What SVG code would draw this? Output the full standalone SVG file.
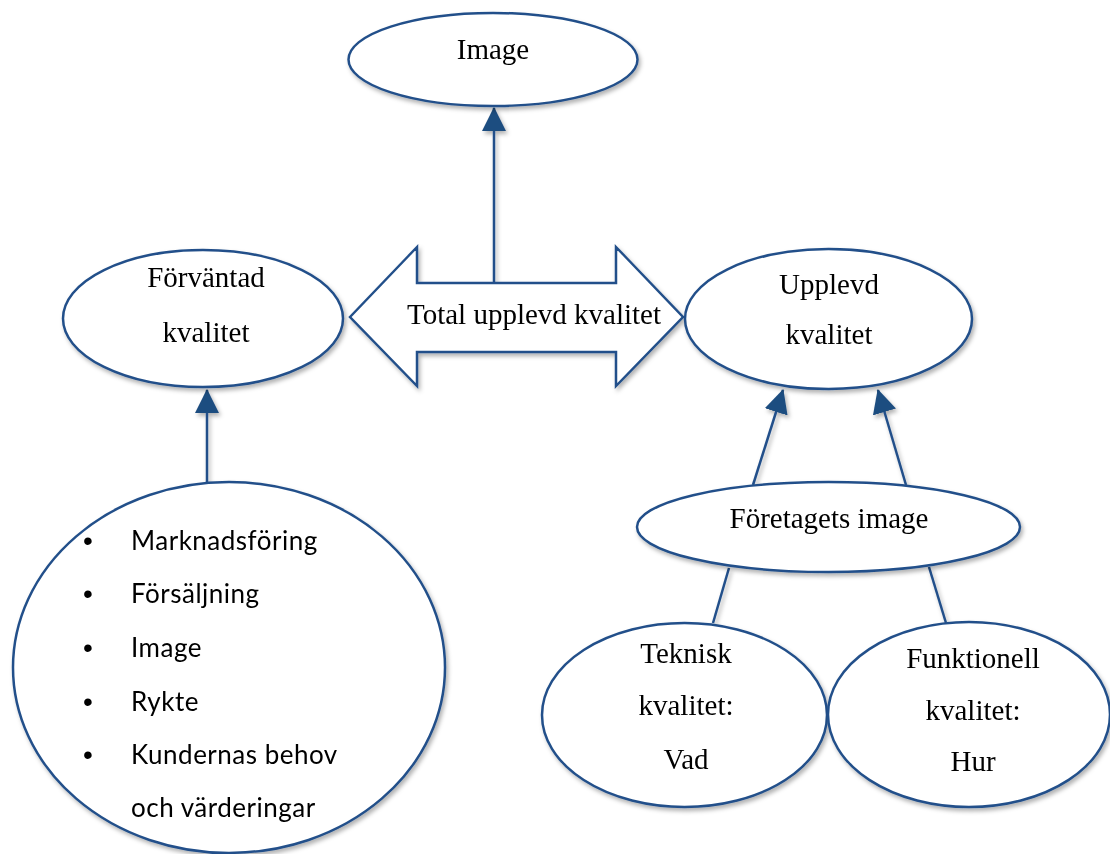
<svg xmlns="http://www.w3.org/2000/svg" width="1110" height="854" viewBox="0 0 1110 854">
  <defs>
    <filter id="sh" x="-10%" y="-10%" width="130%" height="140%">
      <feDropShadow dx="2" dy="3" stdDeviation="2.2" flood-color="#000" flood-opacity="0.3"/>
    </filter>
    <marker id="ah" markerUnits="userSpaceOnUse" markerWidth="24" markerHeight="24" viewBox="0 0 22 22" refX="21" refY="11" orient="auto">
      <path d="M0,0 L22,11 L0,22 Z" fill="#1F4E80"/>
    </marker>
    <style>
      .node { fill: #fff; stroke: #23508A; stroke-width: 2.5; }
      .conn { fill: none; stroke: #23508A; stroke-width: 2.5; }
      .t { font-family: "Liberation Serif", "Times New Roman", serif; font-size: 29px; fill: #000; text-anchor: middle; }
      .b { font-family: Lato, "Open Sans", sans-serif; font-size: 26px; letter-spacing: 0.5px; fill: #000; }
      .dot { font-family: "Liberation Sans", Arial, sans-serif; font-size: 28px; fill: #000; text-anchor: middle; }
    </style>
  </defs>

  <g id="connectors" filter="url(#sh)">
    <line class="conn" x1="494" y1="283" x2="494" y2="108" marker-end="url(#ah)"/>
    <line class="conn" x1="207" y1="482" x2="207" y2="390" marker-end="url(#ah)"/>
    <line class="conn" x1="753" y1="485" x2="783" y2="390" marker-end="url(#ah)"/>
    <line class="conn" x1="906" y1="485" x2="878" y2="390" marker-end="url(#ah)"/>
    <line class="conn" x1="729" y1="568" x2="713" y2="623"/>
    <line class="conn" x1="929" y1="567" x2="946" y2="623"/>
  </g>

  <g id="image" filter="url(#sh)">
    <ellipse class="node" cx="493" cy="59.5" rx="144.5" ry="46.5"/>
    <text class="t" x="493" y="59">Image</text>
  </g>

  <g id="total" filter="url(#sh)">
    <polygon class="node" points="350,317 417,247 417,283 616,283 616,247 683,317 616,386 616,352 417,352 417,386"/>
    <text class="t" x="534" y="324">Total upplevd kvalitet</text>
  </g>

  <g id="forvantad" filter="url(#sh)">
    <ellipse class="node" cx="203" cy="318.5" rx="140" ry="68.5"/>
    <text class="t" x="206" y="287">Förväntad</text>
    <text class="t" x="206" y="342">kvalitet</text>
  </g>

  <g id="upplevd" filter="url(#sh)">
    <ellipse class="node" cx="828.5" cy="319" rx="143.5" ry="70"/>
    <text class="t" x="829" y="294">Upplevd</text>
    <text class="t" x="829" y="344">kvalitet</text>
  </g>

  <g id="faktorer" filter="url(#sh)">
    <ellipse class="node" cx="229" cy="667.5" rx="216" ry="185.5"/>
    <text class="dot" x="88" y="550">•</text>
    <text class="b" x="131" y="550">Marknadsföring</text>
    <text class="dot" x="88" y="603">•</text>
    <text class="b" x="131" y="603">Försäljning</text>
    <text class="dot" x="88" y="657">•</text>
    <text class="b" x="131" y="657">Image</text>
    <text class="dot" x="88" y="711">•</text>
    <text class="b" x="131" y="711">Rykte</text>
    <text class="dot" x="88" y="764">•</text>
    <text class="b" x="131" y="764">Kundernas behov</text>
    <text class="b" x="131" y="817">och värderingar</text>
  </g>

  <g id="foretagets" filter="url(#sh)">
    <ellipse class="node" cx="828.5" cy="527" rx="191.5" ry="45"/>
    <text class="t" x="829" y="528">Företagets image</text>
  </g>

  <g id="teknisk" filter="url(#sh)">
    <ellipse class="node" cx="684.5" cy="715" rx="142.5" ry="92"/>
    <text class="t" x="686" y="663">Teknisk</text>
    <text class="t" x="686" y="715">kvalitet:</text>
    <text class="t" x="686" y="769">Vad</text>
  </g>

  <g id="funktionell" filter="url(#sh)">
    <ellipse class="node" cx="969" cy="714.5" rx="141" ry="92.5"/>
    <text class="t" x="973" y="668">Funktionell</text>
    <text class="t" x="973" y="720">kvalitet:</text>
    <text class="t" x="973" y="771">Hur</text>
  </g>
</svg>
